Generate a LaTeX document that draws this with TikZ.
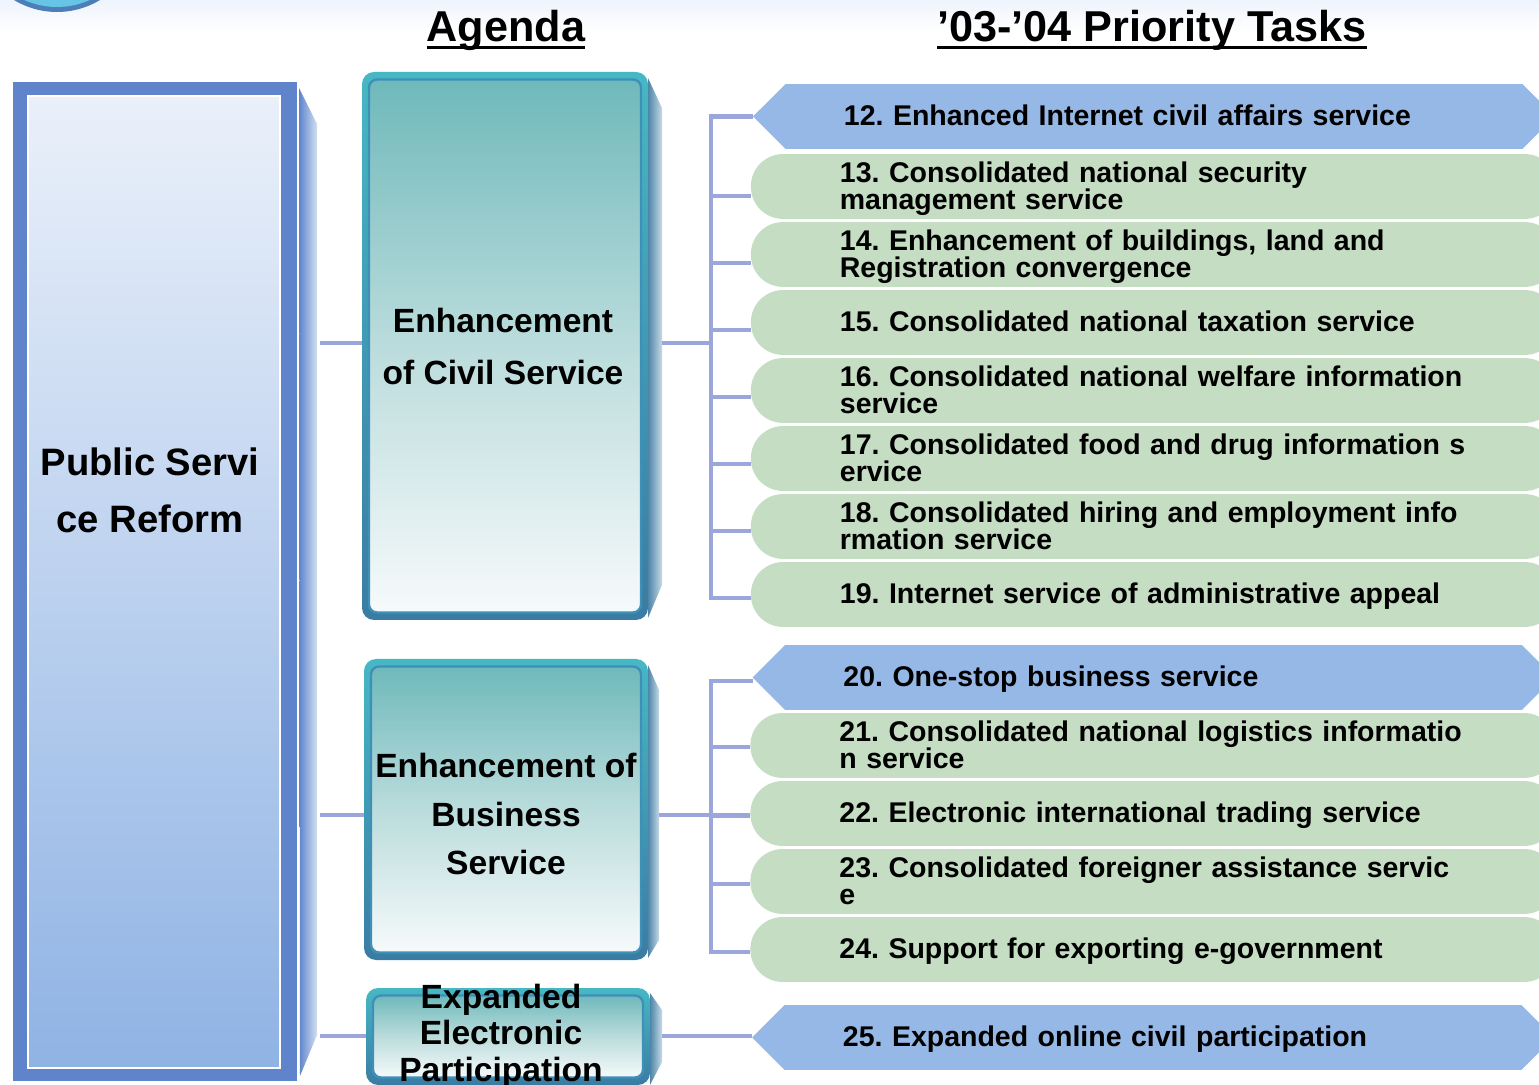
\documentclass[tikz,border=0pt]{standalone}
\usepackage{fontspec}
\setmainfont{Liberation Sans}
\usetikzlibrary{positioning, shapes.symbols}
\definecolor{taskgreen}{HTML}{C5DDC3}
\definecolor{taskblue}{HTML}{96B8E6}
\definecolor{linkblue}{HTML}{9BA6DB}
\definecolor{publicblue}{HTML}{5F84CC}
\definecolor{publictop}{HTML}{EAF0FA}
\definecolor{publicbottom}{HTML}{8FB3E4}
\definecolor{publicside}{HTML}{D2DFF0}
\definecolor{rimblue}{HTML}{3F90B8}
\definecolor{frametop}{HTML}{46B8C4}
\definecolor{framebottom}{HTML}{3A7CA3}
\definecolor{sidedark}{HTML}{4F85A8}
\definecolor{sidelight}{HTML}{C5DAE6}
\definecolor{agendatop}{HTML}{6FB9BB}
\definecolor{agendamid}{HTML}{BBDCDC}
\definecolor{agendabottom}{HTML}{F6FAFB}
\definecolor{bandblue}{HTML}{EEF4FC}
\definecolor{globerim}{HTML}{4C7FB8}
\definecolor{globefill}{HTML}{66C4E4}
\newcommand{\headrule}[1]{\vtop{\hbox{\smash{#1}}\kern2pt\hrule height 1.5pt}}
\newcommand{\taskfont}{\fontsize{14.25}{13.7}\selectfont\bfseries\frenchspacing\hyphenpenalty=10000\relax}

\begin{document}
\begin{tikzpicture}[x=0.5pt, y=-0.5pt, node distance=1.6pt,
        link/.style={draw=linkblue, line width=2.2pt},
        tasktext/.style={inner ysep=0pt, outer sep=0pt, minimum height=32.4pt, text height=11pt, text depth=2.1pt, align=left, font=\taskfont},
        twolines/.style={text depth=15.1pt},
        greentask/.style={tasktext, fill=taskgreen, rounded corners=16pt, text width=314pt, inner xsep=44.5pt},
        bluetask/.style={tasktext, signal, signal to=west and east, signal pointer angle=90, fill=taskblue, text width=310pt, inner xsep=29.25pt},
        agendaframe/.style={rounded corners=6pt, top color=frametop, bottom color=framebottom, inner sep=0pt, outer sep=0pt},
        agendafill/.style={draw=rimblue, line width=1.2pt, rounded corners=4pt, top color=agendatop, bottom color=agendabottom, middle color=agendamid, inner sep=0pt},
        agendatext/.style={align=center, inner sep=0pt, font=\bfseries},
        headtext/.style={anchor=base, inner sep=0pt, font=\fontsize{21.6}{26}\selectfont\bfseries}]
    \clip (0,0) rectangle (1539,1085);

    \shade[top color=bandblue, bottom color=white] (0,0) rectangle (1539,32);
    \fill[globerim] (57,-71) circle[radius=83];
    \fill[globefill] (57,-73) circle[radius=80];

    \node[headtext]  (agenda)  at (506,42)   {\headrule{Agenda}};
    \node[headtext]  (tasks)   at (1152,42)  {\headrule{’03-’04 Priority Tasks}};

    \node[fill=publicblue, minimum width=142pt, minimum height=499.5pt, inner sep=0pt, anchor=north west] (public frame) at (13,82) {};
    \node[draw=white, line width=1pt, top color=publictop, bottom color=publicbottom, minimum width=126pt, minimum height=485.5pt, inner sep=0pt] (public fill) at (154,582) {};
    \node[agendatext, font=\fontsize{19.1}{28.5}\selectfont\bfseries] (public text) at (150,490) {Public Servi\\ce Reform};
    \shade[left color=publicblue, right color=publicside] (299,88) -- (317,124) -- (317,1035) -- (300,1076) -- cycle;

    \node[agendaframe, minimum width=143pt, minimum height=274pt, anchor=north west]  (civil frame)    at (362,72)  {};
    \node[agendafill, minimum width=136pt, minimum height=266.5pt]                    (civil fill)     at (civil frame) {};
    \node[agendatext, font=\fontsize{16.8}{26}\selectfont\bfseries]                   (civil text)     at (503,346) {Enhancement\\of Civil Service};
    \shade[left color=sidedark, right color=sidelight] (648,78) -- (662,108) -- (662,585) -- (648,618) -- cycle;

    \node[agendaframe, minimum width=142pt, minimum height=150.5pt, anchor=north west] (business frame) at (364,659) {};
    \node[agendafill, minimum width=135pt, minimum height=143pt]                       (business fill)  at (business frame) {};
    \node[agendatext, font=\fontsize{16.8}{24.3}\selectfont\bfseries]                  (business text)  at (506,814) {Enhancement of\\Business\\Service};
    \shade[left color=sidedark, right color=sidelight] (648,665) -- (659,690) -- (659,940) -- (648,958) -- cycle;

    \node[agendaframe, minimum width=142pt, minimum height=48.5pt, anchor=north west]  (online frame)   at (366,988) {};
    \node[agendafill, minimum width=135pt, minimum height=41pt]                        (online fill)    at (online frame) {};
    \node[agendatext, font=\fontsize{16.8}{18.3}\selectfont\bfseries]                  (online text)    at (501,1036) {Expanded\\Electronic\\Participation};
    \shade[left color=sidedark, right color=sidelight] (650,993) -- (662,1010) -- (662,1062) -- (650,1085) -- cycle;

    \node[bluetask, anchor=west]                     (t12)  at (753,116.5) {12. Enhanced Internet civil affairs service};
    \node[greentask, twolines, below=2.6pt of t12]   (t13) {13. Consolidated national security\\management service};
    \node[greentask, twolines, below=of t13]         (t14) {14. Enhancement of buildings, land and\\Registration convergence};
    \node[greentask, below=of t14]                   (t15) {15. Consolidated national taxation service};
    \node[greentask, twolines, below=of t15]         (t16) {16. Consolidated national welfare information\\service};
    \node[greentask, twolines, below=of t16]         (t17) {17. Consolidated food and drug information s\\ervice};
    \node[greentask, twolines, below=of t17]         (t18) {18. Consolidated hiring and employment info\\rmation service};
    \node[greentask, below=of t18]                   (t19) {19. Internet service of administrative appeal};

    \node[bluetask, anchor=west]                     (t20)  at (752.5,677.5) {20. One-stop business service};
    \node[greentask, twolines, below=of t20]         (t21) {21. Consolidated national logistics informatio\\n service};
    \node[greentask, below=of t21]                   (t22) {22. Electronic international trading service};
    \node[greentask, twolines, below=of t22]         (t23) {23. Consolidated foreigner assistance servic\\e};
    \node[greentask, below=of t23]                   (t24) {24. Support for exporting e-government};

    \node[bluetask, anchor=west]                     (t25)  at (752,1037.5) {25. Expanded online civil participation};

    \coordinate (public out a)   at (320,343);
    \coordinate (public out b)   at (320,815);
    \coordinate (public out c)   at (320,1036);
    \coordinate (civil out)      at (662,343);
    \coordinate (business out)   at (659,815);
    \coordinate (online out)     at (662,1036);
    \coordinate (trunk a)        at (711,343);
    \coordinate (trunk b)        at (711,815);

    \draw[link] (public out a) -- (public out a-|civil frame.west);
    \draw[link] (public out b) -- (public out b-|business frame.west);
    \draw[link] (public out c) -- (public out c-|online frame.west);
    \draw[link] (civil out) -- (trunk a);
    \draw[link] (business out) -- (trunk b);
    \draw[link] (online out) -- (online out-|t25.west);

    \draw[link] (t12.west) -| (trunk a);
    \draw[link] ([yshift=-4.75pt]t13.west) -- ([yshift=-4.75pt]t13.west-|trunk a);
    \draw[link] ([yshift=-4.25pt]t14.west) -- ([yshift=-4.25pt]t14.west-|trunk a);
    \draw[link] ([yshift=-3.75pt]t15.west) -- ([yshift=-3.75pt]t15.west-|trunk a);
    \draw[link] ([yshift=-3.25pt]t16.west) -- ([yshift=-3.25pt]t16.west-|trunk a);
    \draw[link] ([yshift=-2.75pt]t17.west) -- ([yshift=-2.75pt]t17.west-|trunk a);
    \draw[link] ([yshift=-2.25pt]t18.west) -- ([yshift=-2.25pt]t18.west-|trunk a);
    \draw[link] ([yshift=-1.75pt]t19.west) -| (trunk a);

    \draw[link] ([yshift=-1.75pt]t20.west) -| (trunk b);
    \draw[link] ([yshift=-0.75pt]t21.west) -- ([yshift=-0.75pt]t21.west-|trunk b);
    \draw[link] ([yshift=-1pt]t22.west) -- ([yshift=-1pt]t22.west-|trunk b);
    \draw[link] ([yshift=-1.25pt]t23.west) -- ([yshift=-1.25pt]t23.west-|trunk b);
    \draw[link] ([yshift=-1.25pt]t24.west) -| (trunk b);
\end{tikzpicture}
\end{document}
